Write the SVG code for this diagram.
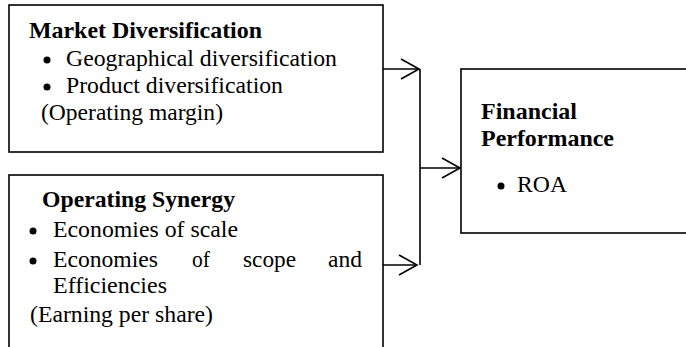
<svg xmlns="http://www.w3.org/2000/svg" width="686" height="347" viewBox="0 0 686 347">
<style>
.box{fill:none;stroke:#000;stroke-width:1.6}
.ln{fill:none;stroke:#000;stroke-width:1.6}
text{font-family:"Liberation Serif","Times New Roman",serif;font-size:23px;fill:#000}
.b{font-weight:bold}
</style>
<defs>
<marker id="arr" markerUnits="userSpaceOnUse" markerWidth="22" markerHeight="24" refX="19" refY="11" orient="auto">
<path d="M1,1 L19,11 L1,21" fill="none" stroke="#000" stroke-width="1.6"/>
</marker>
</defs>
<g id="connectors">
<line class="ln" x1="383" y1="69" x2="419" y2="69" marker-end="url(#arr)"/>
<line class="ln" x1="383" y1="265" x2="417" y2="265" marker-end="url(#arr)"/>
<line class="ln" x1="420" y1="69" x2="420" y2="265"/>
<line class="ln" x1="420" y1="168" x2="460" y2="168" marker-end="url(#arr)"/>
</g>
<g id="market">
<rect class="box" x="9" y="5" width="374" height="147"/>
<text class="b" x="29" y="38" textLength="233" lengthAdjust="spacingAndGlyphs">Market Diversification</text>
<circle cx="47" cy="60" r="3.5"/>
<text x="66" y="66" textLength="271" lengthAdjust="spacingAndGlyphs">Geographical diversification</text>
<circle cx="47" cy="87" r="3.5"/>
<text x="66" y="93" textLength="217" lengthAdjust="spacingAndGlyphs">Product diversification</text>
<text x="41" y="120" textLength="182" lengthAdjust="spacingAndGlyphs">(Operating margin)</text>
</g>
<g id="synergy">
<rect class="box" x="9" y="175" width="374" height="200"/>
<text class="b" x="42" y="207" textLength="193" lengthAdjust="spacingAndGlyphs">Operating Synergy</text>
<circle cx="33" cy="231" r="3.5"/>
<text x="53" y="237" textLength="185" lengthAdjust="spacingAndGlyphs">Economies of scale</text>
<circle cx="33" cy="261" r="3.5"/>
<text x="53" y="267" textLength="105" lengthAdjust="spacingAndGlyphs">Economies</text>
<text x="192" y="267" textLength="18" lengthAdjust="spacingAndGlyphs">of</text>
<text x="243" y="267" textLength="53" lengthAdjust="spacingAndGlyphs">scope</text>
<text x="328" y="267" textLength="34" lengthAdjust="spacingAndGlyphs">and</text>
<text x="53" y="293" textLength="114" lengthAdjust="spacingAndGlyphs">Efficiencies</text>
<text x="30" y="322" textLength="183" lengthAdjust="spacingAndGlyphs">(Earning per share)</text>
</g>
<g id="financial">
<rect class="box" x="461" y="69" width="240" height="164"/>
<text class="b" x="481" y="119" textLength="96" lengthAdjust="spacingAndGlyphs">Financial</text>
<text class="b" x="481" y="146" textLength="133" lengthAdjust="spacingAndGlyphs">Performance</text>
<circle cx="501" cy="186" r="3.5"/>
<text x="517" y="192" textLength="50" lengthAdjust="spacingAndGlyphs">ROA</text>
</g>
</svg>
